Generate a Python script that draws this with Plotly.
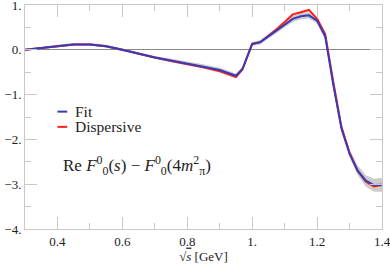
import plotly.graph_objects as go

sqrt_s = [0.3, 0.35, 0.4, 0.45, 0.5, 0.55, 0.6, 0.65, 0.7, 0.75, 0.8, 0.85, 0.9, 0.95, 0.97,
          1.0, 1.025, 1.05, 1.075, 1.1, 1.125, 1.15, 1.175, 1.2, 1.225, 1.25, 1.275, 1.3,
          1.325, 1.35, 1.375, 1.4]
fit = [0.0, 0.04, 0.09, 0.12, 0.12, 0.08, 0.0, -0.09, -0.17, -0.24, -0.31, -0.37, -0.45, -0.58, -0.43,
       0.13, 0.17, 0.30, 0.43, 0.56, 0.69, 0.75, 0.77, 0.65, 0.30, -0.78, -1.75, -2.32,
       -2.70, -2.92, -3.02, -3.01]
dispersive = [0.0, 0.04, 0.09, 0.12, 0.12, 0.08, 0.0, -0.09, -0.17, -0.25, -0.32, -0.39, -0.48, -0.61, -0.44,
              0.13, 0.17, 0.31, 0.46, 0.62, 0.79, 0.84, 0.89, 0.69, 0.35, -0.72, -1.72, -2.30,
              -2.70, -2.94, -3.05, -3.02]
band_lo = [-0.02, 0.02, 0.06, 0.09, 0.09, 0.05, -0.03, -0.12, -0.20, -0.28, -0.35, -0.41, -0.49, -0.62, -0.47,
           0.09, 0.12, 0.25, 0.38, 0.50, 0.62, 0.68, 0.70, 0.58, 0.22, -0.86, -1.83, -2.40,
           -2.80, -3.05, -3.17, -3.17]
band_hi = [0.02, 0.06, 0.12, 0.15, 0.15, 0.11, 0.03, -0.06, -0.14, -0.20, -0.26, -0.32, -0.40, -0.53, -0.38,
           0.17, 0.22, 0.35, 0.49, 0.62, 0.76, 0.82, 0.84, 0.72, 0.38, -0.70, -1.67, -2.22,
           -2.58, -2.80, -2.88, -2.86]

x_ticks = [0.4, 0.6, 0.8, 1.0, 1.2, 1.4]
x_labels = ["0.4", "0.6", "0.8", "1.", "1.2", "1.4"]
y_ticks = [1, 0, -1, -2, -3, -4]
y_labels = ["1.", "0.", "−1.", "−2.", "−3.", "−4."]

BLUE = "#3a3ab4"
RED = "#ff1c1c"
SERIF = "Liberation Serif"

fig = go.Figure()
fig.add_trace(go.Scatter(x=sqrt_s, y=band_lo, mode="lines", line=dict(width=0),
                         hoverinfo="skip", showlegend=False))
fig.add_trace(go.Scatter(x=sqrt_s, y=band_hi, mode="lines", line=dict(width=0),
                         fill="tonexty", fillcolor="rgba(175,175,175,0.65)",
                         hoverinfo="skip", showlegend=False))
fig.add_trace(go.Scatter(x=sqrt_s, y=dispersive, mode="lines", name="Dispersive",
                         line=dict(color=RED, width=2), showlegend=False))
fig.add_trace(go.Scatter(x=sqrt_s, y=fit, mode="lines", name="Fit",
                         line=dict(color=BLUE, width=2), showlegend=False))

# manual legend
legend_items = [("Fit", BLUE, -1.38), ("Dispersive", RED, -1.72)]
for label, col, yy in legend_items:
    fig.add_shape(type="line", xref="x", yref="y", x0=0.400, x1=0.430, y0=yy, y1=yy,
                  line=dict(color=col, width=2))
    fig.add_annotation(x=0.449, y=yy, xref="x", yref="y", text=label, showarrow=False,
                       xanchor="left", yanchor="middle",
                       font=dict(family=SERIF, size=15.5, color="#222"))

fig.add_annotation(x=0.411, y=-2.59, xref="x", yref="y",
                   text="Re <i>F</i><sup>0</sup><sub>0</sub>(<i>s</i>) − <i>F</i><sup>0</sup><sub>0</sub>(4<i>m</i><sup>2</sup><sub>π</sub>)",
                   showarrow=False, xanchor="left", yanchor="middle",
                   font=dict(family=SERIF, size=17, color="#222"))

axis_common = dict(showline=True, linecolor="#c8c8c8", linewidth=1, mirror="ticks",
                   ticks="inside", ticklen=12, tickcolor="#c8c8c8", tickwidth=1,
                   showgrid=False, automargin=False, ticklabeloverflow="allow",
                   tickfont=dict(family=SERIF, size=13, color="#222"))

fig.update_xaxes(range=[0.3, 1.4], tickvals=x_ticks, ticktext=x_labels, zeroline=False,
                 minor=dict(ticks="inside", ticklen=6, tickcolor="#c8c8c8", dtick=0.1, tick0=0.3),
                 title=dict(text="√<span style='text-decoration:overline'><i>s</i></span> [GeV]",
                            font=dict(family=SERIF, size=13, color="#222"), standoff=2),
                 **axis_common)
fig.update_yaxes(range=[-4, 1], tickvals=y_ticks, ticktext=y_labels,
                 zeroline=True, zerolinecolor="#888888", zerolinewidth=1,
                 minor=dict(ticks="inside", ticklen=6, tickcolor="#c8c8c8", dtick=0.5, tick0=0),
                 **axis_common)

fig.update_layout(width=390, height=266, margin=dict(l=25, r=8, t=5, b=37),
                  plot_bgcolor="white", paper_bgcolor="white", showlegend=False)

fig.write_html("out.html", config={"displayModeBar": False},
               post_script="document.body.style.margin='0';document.body.style.overflow='hidden';")
